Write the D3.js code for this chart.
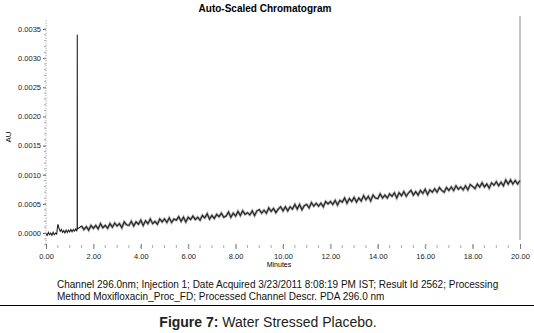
<!DOCTYPE html>
<html>
<head>
<meta charset="utf-8">
<script src="https://cdn.jsdelivr.net/npm/d3@7"></script>
<style>
  body { margin: 0; background: #fff; }
  svg { display: block; font-family: "Liberation Sans", Arial, sans-serif; }
</style>
</head>
<body>
<div id="chart"></div>
<script>
// Axis ticks
const xTicks = [0, 2, 4, 6, 8, 10, 12, 14, 16, 18, 20];
const yTicks = [0, 0.0005, 0.0010, 0.0015, 0.0020, 0.0025, 0.0030, 0.0035];

// Trace before and around the peak: [minutes, AU x 1e-5]
const earlyTrace = [
    [0.0, -1], [0.05, -4], [0.1, 1], [0.15, -3], [0.2, 0], [0.25, -4],
    [0.3, 1], [0.35, -3], [0.4, 0], [0.45, -2], [0.5, 15], [0.55, 8],
    [0.6, 3], [0.65, 6], [0.7, 1], [0.75, 4], [0.8, 0], [0.85, 5],
    [0.9, 1], [0.95, 5], [1.0, 2], [1.05, 6], [1.1, 2], [1.15, 6],
    [1.2, 3], [1.25, 7], [1.3, 4], [1.315, 6], [1.32, 340], [1.325, 7], [1.4, 9]
];

// Baseline after the peak, sampled every 0.1 min from 1.5 min (AU x 1e-5)
const baselineStart = 1.5;
const baselineStep = 0.1;
const baseline = [
    12, 6, 11, 5, 13, 8,
    13, 7, 16, 9, 13, 8, 16, 10, 17, 12,
    16, 9, 19, 14, 13, 20, 12, 19, 15, 22,
    13, 21, 16, 24, 16, 20, 15, 24, 19, 24,
    18, 26, 18, 24, 22, 28, 20, 27, 19, 27,
    23, 29, 23, 27, 22, 30, 26, 33, 24, 30,
    25, 32, 28, 34, 27, 29, 36, 27, 34, 29,
    37, 30, 38, 32, 35, 31, 38, 30, 38, 40,
    34, 39, 34, 43, 37, 42, 35, 41, 45, 38,
    45, 38, 45, 41, 49, 41, 49, 40, 47, 49,
    43, 52, 46, 51, 46, 51, 45, 54, 50, 54,
    49, 56, 48, 56, 53, 60, 51, 59, 54, 61,
    53, 60, 55, 64, 57, 63, 55, 65, 60, 59,
    67, 60, 65, 60, 67, 63, 69, 60, 69, 64,
    71, 63, 69, 73, 65, 71, 65, 73, 68, 75,
    66, 74, 70, 76, 70, 78, 73, 70, 78, 73,
    79, 73, 81, 75, 79, 74, 81, 74, 83, 80,
    76, 84, 79, 86, 79, 84, 77, 86, 82, 88,
    81, 87, 81, 91, 84, 91, 84, 90, 84, 90
];

const captionLines = [
    "Channel 296.0nm; Injection 1; Date Acquired 3/23/2011 8:08:19 PM IST; Result Id 2562; Processing",
    "Method Moxifloxacin_Proc_FD; Processed Channel Descr. PDA 296.0 nm"
];

const earlyPoints = earlyTrace.map(d => ({ t: d[0], v: d[1] * 1e-5 }));
const basePoints = baseline.map((v, i) => ({ t: baselineStart + i * baselineStep, v: v * 1e-5 }));
const points = earlyPoints.concat(basePoints);

const W = 534, H = 333;
const svg = d3.select("#chart").append("svg")
    .attr("width", W)
    .attr("height", H);

// Scales
const x = d3.scaleLinear().domain([0, 20]).range([46, 520]);
const y = d3.scaleLinear().domain([0, 0.0035]).range([233, 29]);

// Title
svg.append("text")
    .attr("x", 265)
    .attr("y", 12)
    .attr("text-anchor", "middle")
    .attr("font-size", 10)
    .attr("font-weight", "bold")
    .text("Auto-Scaled Chromatogram");

// Y axis
const yAxis = svg.append("g")
    .attr("transform", "translate(46,0)")
    .call(d3.axisLeft(y)
        .tickValues(yTicks)
        .tickSize(3)
        .tickPadding(2)
        .tickFormat(d3.format(".4f")));
yAxis.select(".domain").remove();
yAxis.selectAll("text").attr("font-size", 7.5).attr("fill", "#222");
yAxis.selectAll("line").attr("stroke", "#555");

svg.append("line")
    .attr("x1", 46).attr("x2", 46)
    .attr("y1", y(0.00365)).attr("y2", y(-0.0002))
    .attr("stroke", "#999")
    .attr("stroke-dasharray", "1,1.5");

// minor y ticks
svg.append("g").selectAll("line")
    .data(d3.range(-0.0002, 0.0036, 0.0001))
    .join("line")
    .attr("x1", 44).attr("x2", 46)
    .attr("y1", d => y(d)).attr("y2", d => y(d))
    .attr("stroke", "#aaa");

svg.append("text")
    .attr("transform", "translate(11,137) rotate(-90)")
    .attr("text-anchor", "middle")
    .attr("font-size", 8)
    .text("AU");

// X axis
const xAxis = svg.append("g")
    .attr("transform", "translate(0,244)")
    .call(d3.axisBottom(x)
        .tickValues(xTicks)
        .tickSize(5)
        .tickPadding(5)
        .tickFormat(d3.format(".2f")));
xAxis.select(".domain").remove();
xAxis.selectAll("text").attr("font-size", 7.5).attr("fill", "#222");
xAxis.selectAll("line").attr("stroke", "#777");

svg.append("g").selectAll("line")
    .data(d3.range(0.5, 20, 0.5))
    .join("line")
    .attr("x1", d => x(d)).attr("x2", d => x(d))
    .attr("y1", 245).attr("y2", 248)
    .attr("stroke", "#aaa");

svg.append("text")
    .attr("x", x(10) - 4)
    .attr("y", 267)
    .attr("text-anchor", "middle")
    .attr("font-size", 7)
    .text("Minutes");

// Right frame edge
svg.append("line")
    .attr("x1", x(20)).attr("x2", x(20))
    .attr("y1", 16).attr("y2", 240)
    .attr("stroke", "#888");

// Trace: grey halo on the noisy baseline, then dark core
const line = d3.line().x(d => x(d.t)).y(d => y(d.v));
svg.append("path")
    .datum(basePoints)
    .attr("fill", "none")
    .attr("stroke", "#aaa")
    .attr("stroke-width", 2.6)
    .attr("d", line);
svg.append("path")
    .datum(points)
    .attr("fill", "none")
    .attr("stroke", "#222")
    .attr("stroke-width", 1.1)
    .attr("d", line);

// Caption lines
svg.append("g").selectAll("text")
    .data(captionLines)
    .join("text")
    .attr("x", 57)
    .attr("y", (d, i) => 288 + i * 12)
    .attr("font-size", 10)
    .attr("fill", "#111")
    .text(d => d);

// Rule
svg.append("line")
    .attr("x1", 0).attr("x2", W)
    .attr("y1", 305.5).attr("y2", 305.5)
    .attr("stroke", "#000")
    .attr("stroke-width", 1.2);

// Figure caption
const fig = svg.append("text")
    .attr("x", 268)
    .attr("y", 327)
    .attr("text-anchor", "middle")
    .attr("font-size", 14)
    .attr("fill", "#222");
fig.append("tspan").attr("font-weight", "bold").text("Figure 7:");
fig.append("tspan").text(" Water Stressed Placebo.");
</script>
</body>
</html>
